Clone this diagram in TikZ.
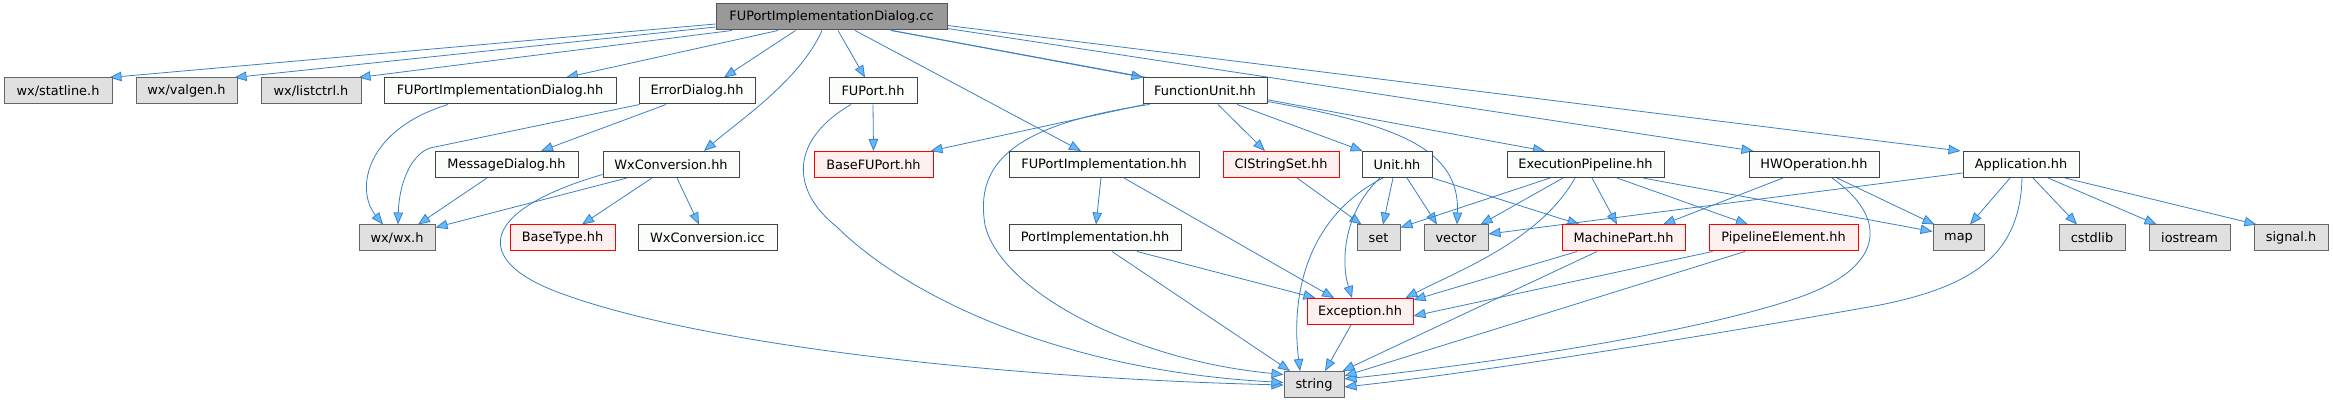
\documentclass[tikz,border=0pt]{standalone}
\usepackage{fontspec}
\setmainfont{DejaVu Sans}
\usetikzlibrary{arrows.meta}
\pgfdeclarelayer{background}
\pgfsetlayers{background,main}
\definecolor{edgeC}{HTML}{3A80C6}
\definecolor{arrowC}{HTML}{63B8FF}
\definecolor{wfill}{HTML}{FBFDFB}
\definecolor{wborder}{HTML}{444444}
\definecolor{gfill}{HTML}{E0E0E0}
\definecolor{gborder}{HTML}{666666}
\definecolor{rfill}{HTML}{FFF0F0}
\definecolor{rootfill}{HTML}{999999}
\definecolor{rootborder}{HTML}{555555}
\tikzset{
  box/.style={draw=wborder, line width=1pt, fill=wfill, minimum height=26pt, inner sep=0pt,
    font=\fontsize{12.9pt}{15pt}\selectfont},
  wbox/.style={box},
  gbox/.style={box, fill=gfill, draw=gborder},
  rbox/.style={box, fill=rfill, draw=red},
  rootbox/.style={box, fill=rootfill, draw=rootborder},
  edge/.style={draw=edgeC, line width=0.8pt, -{Triangle[length=12pt,width=9.5pt,fill=arrowC]}}
}
\begin{document}
\begin{tikzpicture}[x=1pt,y=-1pt]
\useasboundingbox (0,0) rectangle (2333,403);
% row 0
\node[rootbox, minimum width=231pt] (root) at (831.5,17) {FUPortImplementationDialog.cc};
% row 1
\node[gbox, minimum width=108pt] (statline) at (58,91) {wx/statline.h};
\node[gbox, minimum width=101pt] (valgen) at (186.5,91) {wx/valgen.h};
\node[gbox, minimum width=100pt] (listctrl) at (311,91) {wx/listctrl.h};
\node[wbox, minimum width=232pt] (fupid) at (500,91) {FUPortImplementationDialog.hh};
\node[wbox, minimum width=116pt] (errd) at (697,91) {ErrorDialog.hh};
\node[wbox, minimum width=88pt] (fuport) at (873,91) {FUPort.hh};
\node[wbox, minimum width=124pt] (fu) at (1205,91) {FunctionUnit.hh};
% row 2
\node[wbox, minimum width=143pt] (msgd) at (506.5,164.5) {MessageDialog.hh};
\node[wbox, minimum width=136pt] (wxc) at (671,164.5) {WxConversion.hh};
\node[rbox, minimum width=119pt] (bfup) at (873.5,164.5) {BaseFUPort.hh};
\node[wbox, minimum width=190pt] (fupi) at (1104,164.5) {FUPortImplementation.hh};
\node[rbox, minimum width=116pt] (cis) at (1281,164.5) {CIStringSet.hh};
\node[wbox, minimum width=70pt] (unit) at (1397,164.5) {Unit.hh};
\node[wbox, minimum width=157pt] (ep) at (1585.5,164.5) {ExecutionPipeline.hh};
\node[wbox, minimum width=130pt] (hw) at (1814,164.5) {HWOperation.hh};
\node[wbox, minimum width=116pt] (app) at (2021,164.5) {Application.hh};
% row 3
\node[gbox, minimum width=76pt] (wxwx) at (397,238) {wx/wx.h};
\node[rbox, minimum width=105pt] (btype) at (562.5,238) {BaseType.hh};
\node[wbox, minimum width=139pt] (icc) at (707.5,238) {WxConversion.icc};
\node[wbox, minimum width=172pt] (pi) at (1095,238) {PortImplementation.hh};
\node[gbox, minimum width=43pt] (set) at (1378.5,238) {set};
\node[gbox, minimum width=64pt] (vec) at (1456,238) {vector};
\node[rbox, minimum width=123pt] (mp) at (1623.5,238) {MachinePart.hh};
\node[rbox, minimum width=149pt] (pe) at (1783.5,238) {PipelineElement.hh};
\node[gbox, minimum width=51pt] (map) at (1958.5,238) {map};
\node[gbox, minimum width=66pt] (cstd) at (2092,238) {cstdlib};
\node[gbox, minimum width=81pt] (ios) at (2189.5,238) {iostream};
\node[gbox, minimum width=74pt] (sig) at (2291,238) {signal.h};
% row 4, 5
\node[rbox, minimum width=106pt] (exc) at (1360,311.5) {Exception.hh};
\node[gbox, minimum width=60pt] (str) at (1314,384.5) {string};

\begin{pgfonlayer}{background}
\fill[white] (0,0) rectangle (2333,403);
% root edges
\draw[edge] ([yshift=-7pt]root.west) -- ([xshift=-3pt]statline.north east);
\draw[edge] ([yshift=-10pt]root.west) -- ([xshift=-3pt]valgen.north east);
\draw[edge] ([xshift=-99.5pt]root.south) -- ([xshift=-3pt]listctrl.north east);
\draw[edge] ([xshift=-53.5pt]root.south) -- ([xshift=66pt]fupid.north);
\draw[edge] ([xshift=-36pt]root.south) -- ([xshift=27pt]errd.north);
\draw[edge] ([xshift=-9.5pt]root.south) .. controls (800,80) and (740,120) .. ([xshift=33pt]wxc.north);
\draw[edge] ([xshift=6.5pt]root.south) -- ([xshift=-8pt]fuport.north);
\draw[edge] ([xshift=23.5pt]root.south) -- ([xshift=-23pt]fupi.north);
\draw[edge] ([xshift=59.5pt]root.south) -- ([xshift=1pt]fu.north west);
\draw[edge] ([xshift=60.5pt]root.south) -- ([xshift=-40.5pt]ep.north);
\draw[edge] ([yshift=2pt]root.south east) -- ([xshift=5pt]hw.north west);
\draw[edge] ([yshift=5pt]root.south east) -- ([xshift=-2pt]app.north west);
% wx side
\draw[edge] ([xshift=-52pt]fupid.south) .. controls (365,130) and (355,190) .. ([xshift=-14pt]wxwx.north);
\draw[edge] ([xshift=1pt]errd.south west) -- (430,148) .. controls (410,155) and (399,185) .. ([xshift=1pt]wxwx.north);
\draw[edge] ([xshift=-31pt]errd.south) -- ([xshift=34.5pt]msgd.north);
\draw[edge] ([xshift=-19.5pt]msgd.south) -- ([xshift=21pt]wxwx.north);
\draw[edge] ([xshift=-44pt]wxc.south) -- ([yshift=-3pt]wxwx.north east);
\draw[edge] ([yshift=3.5pt]wxc.south west) .. controls (480,210) and (470,260) .. (560,293) .. controls (700,345) and (1000,378) .. ([yshift=-0.5pt]str.west);
\draw[edge] ([xshift=-19pt]wxc.south) -- ([xshift=19.5pt]btype.north);
\draw[edge] ([xshift=6pt]wxc.south) -- ([xshift=-8.5pt]icc.north);
% FUPort
\draw[edge] (fuport.south) -- (bfup.north);
\draw[edge] ([xshift=-22pt]fuport.south) .. controls (790,140) and (790,190) .. (837,227) .. controls (900,290) and (1050,370) .. ([yshift=2pt]str.west);
% FunctionUnit
\draw[edge] ([xshift=2pt]fu.south west) -- ([xshift=-3pt]bfup.north east);
\draw[edge] ([xshift=7pt]fu.south west) .. controls (1010,125) and (975,165) .. (985,225) .. controls (1000,290) and (1130,360) .. ([yshift=-3.5pt]str.north west);
\draw[edge] ([xshift=13pt]fu.south) -- ([xshift=-16pt]cis.north);
\draw[edge] ([xshift=32pt]fu.south) -- ([xshift=1pt]unit.north west);
\draw[edge] ([yshift=3pt]fu.south east) .. controls (1400,125) and (1460,150) .. ([xshift=1pt]vec.north);
% FUPortImplementation / PortImplementation
\draw[edge] ([xshift=-3pt]fupi.south) -- ([xshift=1pt]pi.north);
\draw[edge] ([xshift=20pt]fupi.south) -- ([xshift=-26pt]exc.north);
\draw[edge] ([xshift=42pt]pi.south) -- ([xshift=9pt]exc.north west);
\draw[edge] ([xshift=17pt]pi.south) -- ([xshift=-24pt]str.north);
% CIStringSet, Unit
\draw[edge] ([xshift=16pt]cis.south) -- ([xshift=5pt]set.north west);
\draw[edge] ([xshift=-4pt]unit.south) -- ([xshift=4.5pt]set.north);
\draw[edge] ([xshift=10pt]unit.south) -- ([xshift=-19pt]vec.north);
\draw[edge] (unit.south east) -- ([xshift=18pt]mp.north west);
\draw[edge] ([xshift=-17pt]unit.south) .. controls (1345,210) and (1340,260) .. ([xshift=-8pt]exc.north);
\draw[edge] ([xshift=-14pt]unit.south) .. controls (1310,215) and (1290,290) .. ([xshift=-14pt]str.north);
% ExecutionPipeline
\draw[edge] ([xshift=-35.5pt]ep.south) -- ([yshift=-3pt]set.north east);
\draw[edge] ([xshift=-22.5pt]ep.south) -- ([xshift=-8pt]vec.north east);
\draw[edge] ([xshift=-10.5pt]ep.south) .. controls (1540,240) and (1460,270) .. ([xshift=-8pt]exc.north east);
\draw[edge] ([xshift=6.5pt]ep.south) -- ([xshift=-6.5pt]mp.north);
\draw[edge] ([xshift=31.5pt]ep.south) -- ([xshift=-35.5pt]pe.north);
\draw[edge] ([xshift=57.5pt]ep.south) -- ([yshift=-7pt]map.north west);
% HWOperation
\draw[edge] ([xshift=-31pt]hw.south) -- ([xshift=39.5pt]mp.north);
\draw[edge] ([xshift=23pt]hw.south) -- ([xshift=2pt]map.north west);
\draw[edge] ([xshift=18pt]hw.south) .. controls (1885,215) and (1890,265) .. (1800,297) .. controls (1700,332) and (1500,362) .. ([yshift=5.5pt]str.east);
% Application
\draw[edge] ([yshift=-8.5pt]app.west) -- ([yshift=4pt]vec.east);
\draw[edge] ([xshift=-11pt]app.south) -- ([xshift=11.5pt]map.north);
\draw[edge] ([xshift=12pt]app.south) -- ([xshift=-15pt]cstd.north);
\draw[edge] ([xshift=27pt]app.south) -- ([xshift=8pt]ios.north west);
\draw[edge] ([xshift=44pt]app.south) -- ([xshift=3pt]sig.north west);
\draw[edge] ([xshift=1pt]app.south) .. controls (2020,250) and (1980,285) .. (1880,305) .. controls (1740,330) and (1500,370) .. ([yshift=-2.5pt]str.east);
% MachinePart, PipelineElement, Exception
\draw[edge] ([xshift=-46.5pt]mp.south) -- ([yshift=-2pt]exc.north east);
\draw[edge] ([xshift=-26.5pt]mp.south) -- ([xshift=-2pt]str.north east);
\draw[edge] ([xshift=4pt]pe.south west) -- ([yshift=-4.5pt]exc.east);
\draw[edge] ([xshift=-38.5pt]pe.south) -- ([yshift=8.5pt]str.east);
\draw[edge] ([xshift=-9pt]exc.south) -- ([xshift=11pt]str.north);
\end{pgfonlayer}
\end{tikzpicture}
\end{document}
